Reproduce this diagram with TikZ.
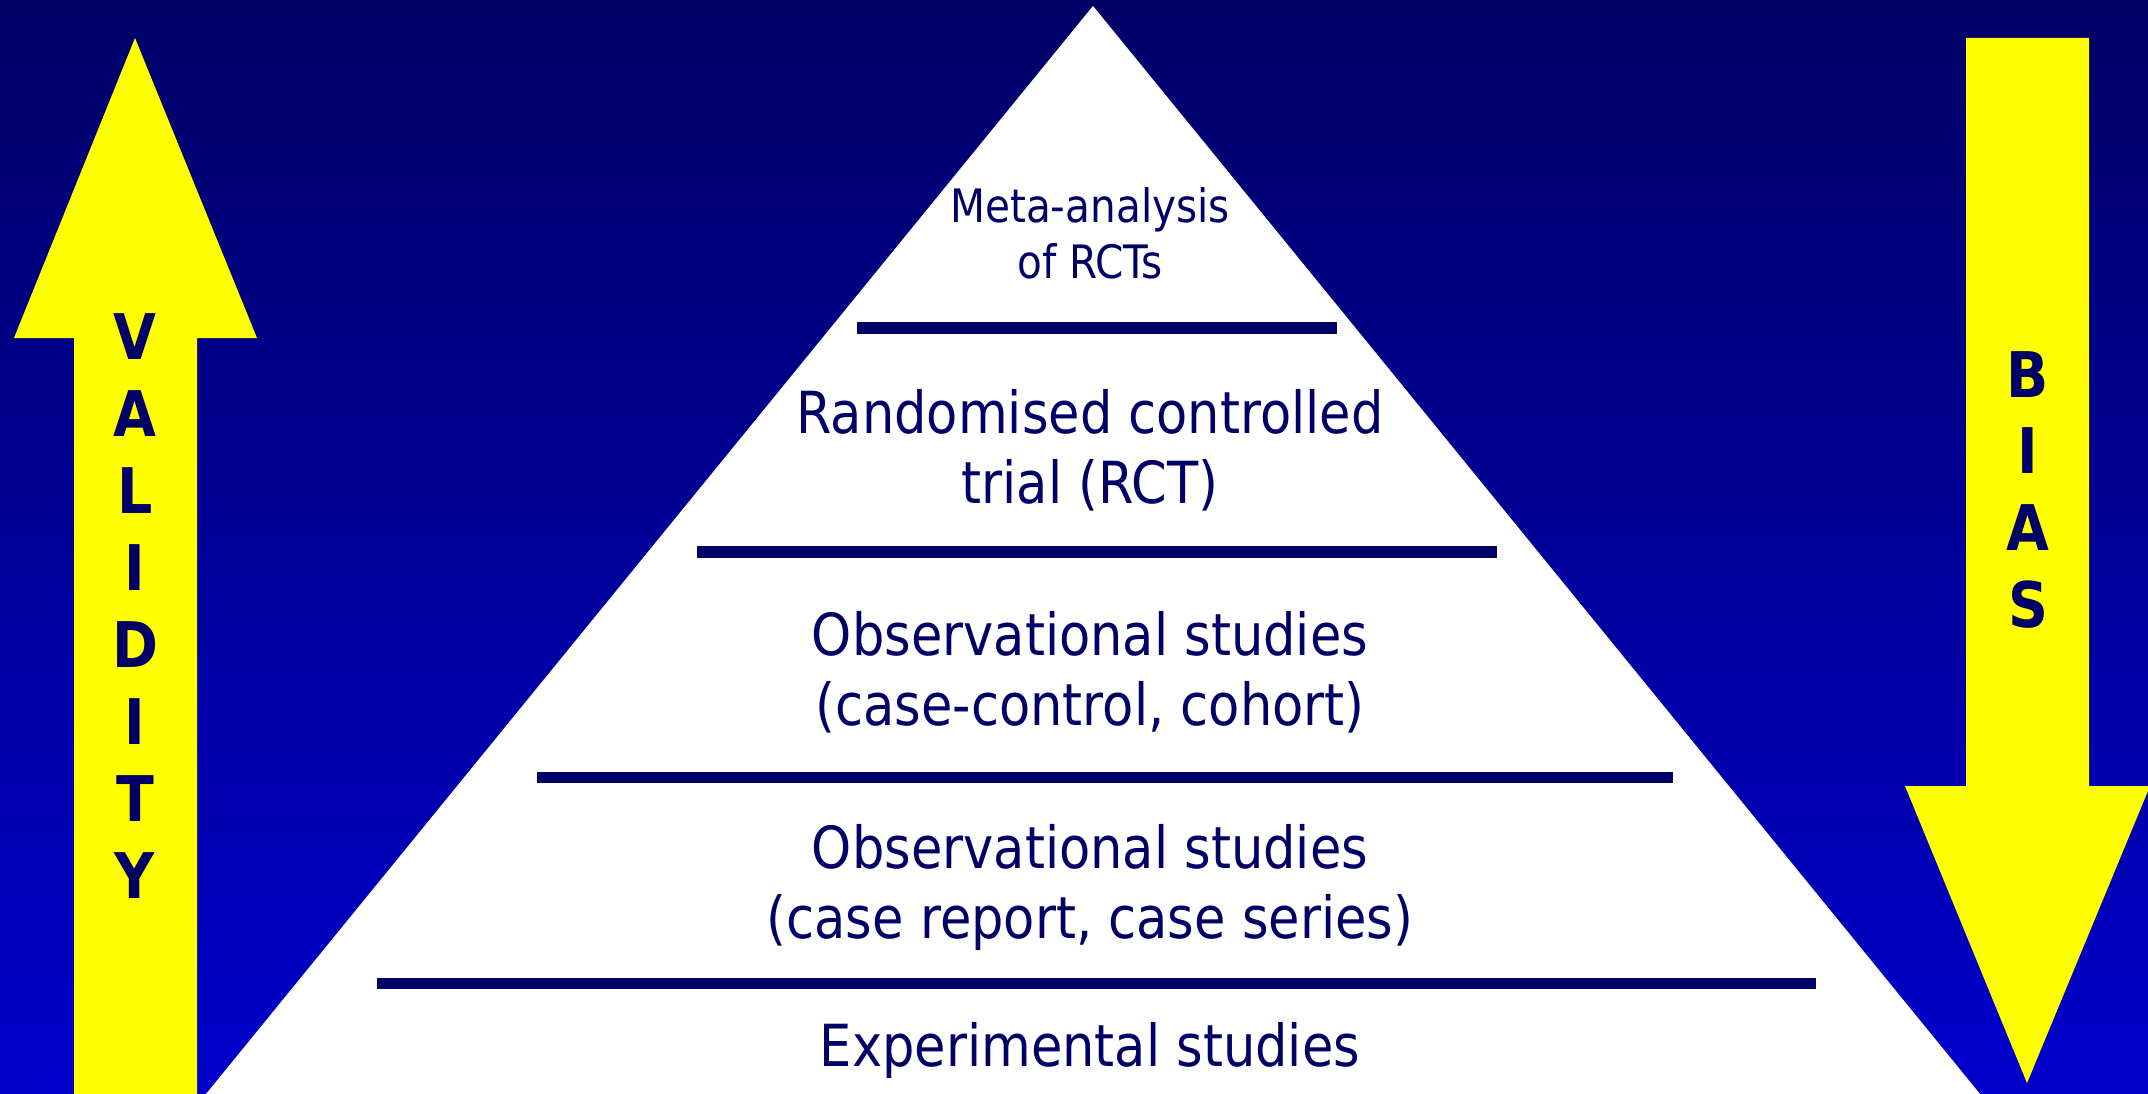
\documentclass[tikz,border=0pt]{standalone}
\usepackage{fontspec}
\setmainfont{DejaVu Sans}[FakeStretch=0.88]
\usepackage{tikz}
\usetikzlibrary{positioning}
\definecolor{mNavy}{RGB}{0,0,102}
\definecolor{mBlueTop}{RGB}{0,0,102}
\definecolor{mBlueBot}{RGB}{0,0,204}
\definecolor{mYellow}{RGB}{255,255,0}
\newcommand{\lvlfont}{\fontsize{16.5}{19.9}\selectfont}
\newcommand{\topfont}{\fontsize{13.1}{15.9}\selectfont}
\newcommand{\lvlnode}[4]{%
 \node[lvltext, font=#4] (#1) at (1090,#2) {#3};}

\begin{document}
\begin{tikzpicture}[x=0.01cm, y=-0.01cm,
  lvltext/.style={anchor=base, align=center, inner sep=0pt, text=mNavy},
  lvlrule/.style={draw=mNavy, line width=0.11cm},
  arrletter/.style={anchor=base, inner sep=0pt, text=mNavy, font=\bfseries\fontsize{17.9}{20}\selectfont}]
\useasboundingbox (0,0) rectangle (2148,1094);
\clip (0,0) rectangle (2148,1094);
% background
\shade[top color=mBlueTop, bottom color=mBlueBot] (0,0) rectangle (2148,1094);
% pyramid
\fill[white] (1093,6) -- (1980,1094) -- (206,1094) -- cycle;
\draw[lvlrule] (857,328) -- (1337,328);
\draw[lvlrule] (697,552) -- (1497,552);
\draw[lvlrule] (537,777) -- (1673,777);
\draw[lvlrule] (377,983) -- (1816,983);
\lvlnode{meta}{278}{Meta-analysis\\of RCTs}{\topfont}
\lvlnode{rct}{503}{Randomised controlled\\trial (RCT)}{\lvlfont}
\lvlnode{obsa}{725}{Observational studies\\(case-control, cohort)}{\lvlfont}
\lvlnode{obsb}{938}{Observational studies\\(case report, case series)}{\lvlfont}
\lvlnode{expt}{1066}{Experimental studies}{\lvlfont}
% validity arrow
\fill[mYellow] (135,38) -- (257,338) -- (197,338) -- (197,1094) -- (74,1094) -- (74,338) -- (14,338) -- cycle;
\foreach \ch [count=\i from 0] in {V,A,L,I,D,I,T,Y}
  \node[arrletter] (val\i) at (135,{360+76.9*\i}) {\ch};
% bias arrow
\fill[mYellow] (1966,38) -- (2089,38) -- (2089,786) -- (2150,786) -- (2027,1083) -- (1905,786) -- (1966,786) -- cycle;
\foreach \ch [count=\i from 0] in {B,I,A,S}
  \node[arrletter] (bias\i) at (2028,{397+76.8*\i}) {\ch};
\end{tikzpicture}
\end{document}
